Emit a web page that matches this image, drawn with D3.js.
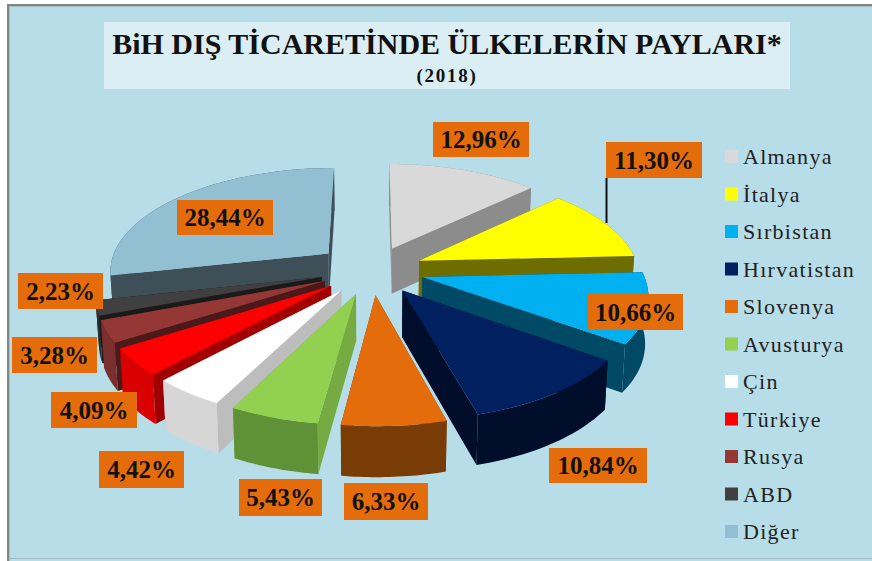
<!DOCTYPE html>
<meta charset="utf-8">
<script src="https://d3js.org/d3.v7.min.js"></script>
<style>
    html, body { margin: 0; padding: 0; background: white; }
    text { font-family: "Liberation Serif", "Times New Roman", serif; }
</style>
<div id="my_dataviz"></div>
<script>

    // values
    var countries = ["Almanya", "İtalya", "Sırbistan", "Hırvatistan", "Slovenya", "Avusturya", "Çin", "Türkiye", "Rusya", "ABD", "Diğer"];
    var shares = [12.96, 11.30, 10.66, 10.84, 6.33, 5.43, 4.42, 4.09, 3.28, 2.23, 28.44];
    var shareLabels = ["12,96%", "11,30%", "10,66%", "10,84%", "6,33%", "5,43%", "4,42%", "4,09%", "3,28%", "2,23%", "28,44%"];

    // colours: top face, radial walls, outer rim
    var topColors = ["#d9d9d9", "#ffff00", "#00b0f0", "#002060", "#e46c0a", "#92d050", "#ffffff", "#ff0000", "#953735", "#404040", "#93bfd3"];
    var wallColors = ["#8c8c8c", "#6e6e00", "#004a66", "#000d2b", "#7a3c05", "#76ab43", "#bdbdbd", "#a00000", "#4a1a1a", "#1a1a1a", "#3e4f57"];
    var rimColors = ["#8c8c8c", "#6e6e00", "#004a66", "#000d2b", "#7a3c05", "#5f9137", "#d6d6d6", "#d80000", "#7a2e2d", "#2e2e2e", "#3e4f57"];

    // how far each slice is pulled out of the pie (in radii)
    var explodes = [0.236, 0.236, 0.236, 0.236, 0.236, 0.236, 0.236, 0.236, 0.236, 0.236, 0.26];

    // label boxes [x0, y0, x1, y1] in page pixels
    var labelBoxes = [
        [433, 122, 529, 157], [606, 142, 702, 178], [588, 294, 683, 330], [549, 448, 647, 483],
        [344, 483, 428, 520], [239, 479, 322, 516], [99, 451, 184, 488], [51, 392, 137, 428],
        [12, 337, 97, 373], [18, 273, 103, 309], [177, 200, 273, 235]
    ];

    var width = 872, height = 561;

    // the pie is a disc seen in perspective
    var cx = 372, cy = 270, rx = 220, ry = 103, persp = 0.15, depth = 46;

    var svg = d3.select("#my_dataviz")
        .append("svg")
        .attr("width", width)
        .attr("height", height)
        .style("display", "block");

    // frame and background: only the top and left edges carry a grey line
    svg.append("rect").attr("x", 0).attr("y", 0).attr("width", width).attr("height", height).attr("fill", "white");
    svg.append("rect").attr("x", 7).attr("y", 4).attr("width", width - 7).attr("height", height - 4).attr("fill", "#808585");
    svg.append("rect").attr("x", 9).attr("y", 6).attr("width", width - 9).attr("height", height - 6).attr("fill", "#a9bcc2");
    svg.append("rect").attr("x", 10).attr("y", 7).attr("width", width - 10).attr("height", height - 7).attr("fill", "#b7dde8");
    svg.append("rect").attr("x", 10).attr("y", 558).attr("width", width - 10).attr("height", 1).attr("fill", "#9fbcc8");

    // title
    svg.append("rect").attr("x", 104).attr("y", 22).attr("width", 686).attr("height", 67).attr("fill", "#dbeef4");
    svg.append("text").attr("x", 447).attr("y", 54).attr("text-anchor", "middle")
        .attr("font-size", 30).attr("font-weight", "bold").attr("fill", "#111")
        .text("BiH DIŞ TİCARETİNDE ÜLKELERİN PAYLARI*");
    svg.append("text").attr("x", 447).attr("y", 82).attr("text-anchor", "middle")
        .attr("font-size", 19).attr("font-weight", "bold").attr("letter-spacing", 1.7).attr("fill", "#111")
        .text("(2018)");

    var color = d3.scaleOrdinal().domain(countries).range(topColors);
    var wallColor = d3.scaleOrdinal().domain(countries).range(wallColors);
    var rimColor = d3.scaleOrdinal().domain(countries).range(rimColors);

    var pie = d3.pie().sort(null).value(function (d, i) { return shares[i]; });
    var arcs = pie(countries);

    // u, v on the disc (radius 1), z: 0 top face, 1 bottom
    function project(u, v, z) {
        var s = 1 / (1 + persp * v);
        return [cx + rx * u * s * (1 - 0.012 * z), cy - ry * v * s + depth * Math.sqrt(s) * z];
    }

    var line = d3.line();

    function sliceGeom(a) {
        var mid = (a.startAngle + a.endAngle) / 2;
        var e = explodes[a.index];
        var ox = e * Math.sin(mid), oy = e * Math.cos(mid);
        var n = 24;
        var angles = d3.range(n + 1).map(function (i) {
            return a.startAngle + (a.endAngle - a.startAngle) * i / n;
        });
        return {
            apex: function (z) { return project(ox, oy, z); },
            rim: function (z) {
                return angles.map(function (t) { return project(ox + Math.sin(t), oy + Math.cos(t), z); });
            }
        };
    }

    // back to front
    var drawOrder = ["Diğer", "Almanya", "İtalya", "Sırbistan", "ABD", "Rusya", "Türkiye", "Çin", "Avusturya", "Hırvatistan", "Slovenya"];

    var slices = svg.append("g")
        .selectAll("g")
        .data(drawOrder.map(function (name) { return arcs[countries.indexOf(name)]; }))
        .enter()
        .append("g");

    slices.each(function (a) {
        var g = d3.select(this), geom = sliceGeom(a);
        var top = geom.rim(0), bottom = geom.rim(1);
        var last = top.length - 1;
        // radial walls
        [0, last].forEach(function (k) {
            g.append("path")
                .attr("d", line([geom.apex(0), top[k], bottom[k], geom.apex(1)]) + "Z")
                .attr("fill", wallColor(a.data));
        });
        // outer rim
        g.append("path")
            .attr("d", line(top.concat(bottom.slice().reverse())) + "Z")
            .attr("fill", rimColor(a.data));
        // top face
        g.append("path")
            .attr("d", line([geom.apex(0)].concat(top)) + "Z")
            .attr("fill", color(a.data));
    });

    // leader line of the 11,30% label
    svg.append("line").attr("x1", 606.5).attr("y1", 178).attr("x2", 606.5).attr("y2", 223)
        .attr("stroke", "#111").attr("stroke-width", 2);

    // value labels
    var labels = svg.append("g").selectAll("g").data(labelBoxes).enter().append("g");
    labels.append("rect")
        .attr("x", function (d) { return d[0]; })
        .attr("y", function (d) { return d[1]; })
        .attr("width", function (d) { return d[2] - d[0]; })
        .attr("height", function (d) { return d[3] - d[1]; })
        .attr("fill", "#e46c0a");
    labels.append("text")
        .attr("x", function (d) { return (d[0] + d[2]) / 2; })
        .attr("y", function (d) { return (d[1] + d[3]) / 2 + 8.5; })
        .attr("text-anchor", "middle")
        .attr("font-size", 25)
        .attr("font-weight", "bold")
        .attr("fill", "#111")
        .text(function (d, i) { return shareLabels[i]; });

    // legend
    var legendY = d3.scaleLinear().domain([0, countries.length - 1]).range([157, 532]);
    var legend = svg.append("g").selectAll("g").data(countries).enter().append("g");
    legend.append("rect")
        .attr("x", 725)
        .attr("y", function (d, i) { return legendY(i) - 7; })
        .attr("width", 13)
        .attr("height", 13)
        .attr("fill", function (d) { return color(d); });
    legend.append("text")
        .attr("x", 743)
        .attr("y", function (d, i) { return legendY(i) + 7; })
        .attr("font-size", 22)
        .attr("letter-spacing", 1.3)
        .attr("fill", "#222")
        .text(function (d) { return d; });

</script>
